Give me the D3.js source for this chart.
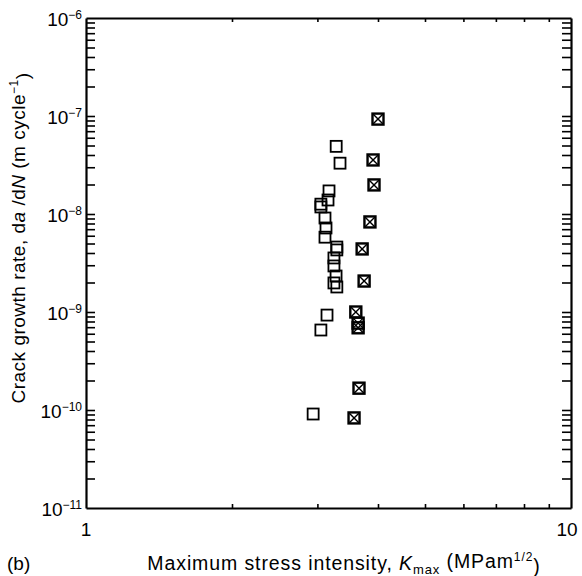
<!DOCTYPE html>
<meta charset="utf-8">
<style>
body { margin: 0; background: #fff; }
svg { font-family: "Liberation Sans", Arial, sans-serif; }
.axis path { stroke: #000; stroke-width: 2.2px; }
.axis line { stroke: #000; stroke-width: 1.6px; }
.open { fill: none; stroke: #000; stroke-width: 1.8px; }
.cross rect { fill: none; stroke: #000; stroke-width: 2.4px; }
.cross line { stroke: #000; stroke-width: 1.4px; }
</style>
<svg width="582" height="576"></svg>
<script src="https://cdn.jsdelivr.net/npm/d3@7"></script>
<script>

// open squares: K_max (MPa m^1/2), da/dN (m/cycle)
var openK    = [3.28, 3.34, 3.17, 3.155, 3.05, 3.05, 3.11, 3.125, 3.11, 3.29, 3.29, 3.245, 3.245, 3.278, 3.245, 3.29, 3.14, 3.05, 2.94];
var openRate = [4.9e-8, 3.3e-8, 1.72e-8, 1.39e-8, 1.26e-8, 1.18e-8, 9.1e-9, 7.2e-9, 5.8e-9, 4.6e-9, 4.3e-9, 3.56e-9, 2.95e-9, 2.33e-9, 1.98e-9, 1.8e-9, 9.3e-10, 6.55e-10, 9.1e-11];

// crossed squares
var crossK    = [4.0, 3.907, 3.925, 3.85, 3.71, 3.745, 3.60, 3.64, 3.64, 3.655, 3.57];
var crossRate = [9.3e-8, 3.56e-8, 1.98e-8, 8.3e-9, 4.4e-9, 2.07e-9, 1.0e-9, 7.7e-10, 6.9e-10, 1.67e-10, 8.3e-11];

var yDecades = [-11, -10, -9, -8, -7, -6];
var xLabels = [1, 10];

var svg = d3.select("svg"),
    margin = {top: 18, right: 11, bottom: 68, left: 86},
    width = svg.attr("width") - margin.left - margin.right,
    height = svg.attr("height") - margin.top - margin.bottom,
    g = svg.append("g").attr("transform", "translate(" + margin.left + "," + margin.top + ")");

var x = d3.scaleLog().domain([1, 10]).range([0, width]),
    y = d3.scaleLog().domain([1e-11, 1e-6]).range([height, 0]);

var xTicks = d3.range(2, 10);
var yTicks = [];
yDecades.forEach(function(e) {
  if (e < -6) for (var m = 2; m < 10; m++) yTicks.push(m * Math.pow(10, e));
  if (e > -11 && e < -6) yTicks.push(Math.pow(10, e));
});

g.append("g").attr("class", "axis")
    .attr("transform", "translate(0," + height + ")")
    .call(d3.axisBottom(x).tickValues(xTicks).tickSizeInner(-4).tickSizeOuter(0).tickFormat(""));
g.append("g").attr("class", "axis")
    .call(d3.axisTop(x).tickValues(xTicks).tickSizeInner(-4).tickSizeOuter(0).tickFormat(""));
g.append("g").attr("class", "axis")
    .call(d3.axisLeft(y).tickValues(yTicks).tickSizeInner(-9).tickSizeOuter(0).tickFormat(""));
g.append("g").attr("class", "axis")
    .attr("transform", "translate(" + width + ",0)")
    .call(d3.axisRight(y).tickValues(yTicks).tickSizeInner(-9).tickSizeOuter(0).tickFormat(""));

// y tick labels
var yl = g.append("g").selectAll("text")
  .data(yDecades)
  .enter().append("text")
    .attr("x", -4)
    .attr("y", function(d) { return y(Math.pow(10, d)) + 8; })
    .attr("text-anchor", "end")
    .style("font-size", "19px");
yl.append("tspan").text("10");
yl.append("tspan")
    .attr("dy", "-0.6em")
    .style("font-size", "12px")
    .text(function(d) { return "\u2212" + (-d); });

// x tick labels
g.append("g").selectAll("text")
  .data(xLabels)
  .enter().append("text")
    .attr("x", function(d, i) { return x(d) - i * 4; })
    .attr("y", height + 28)
    .attr("text-anchor", "middle")
    .style("font-size", "19px")
    .text(function(d) { return d; });

// axis titles
var yt = svg.append("text")
    .attr("transform", "translate(25,238) rotate(-90)")
    .attr("text-anchor", "middle")
    .style("font-size", "19px")
    .style("letter-spacing", "0.5px");
yt.append("tspan").text("Crack growth rate, d");
yt.append("tspan").style("font-style", "italic").text("a");
yt.append("tspan").text(" /d");
yt.append("tspan").style("font-style", "italic").text("N");
yt.append("tspan").text(" (m cycle");
yt.append("tspan").attr("dy", "-0.6em").style("font-size", "12px").text("\u22121");
yt.append("tspan").attr("dy", "0.6em").text(")");

var xt = svg.append("text")
    .attr("x", 344)
    .attr("y", 570)
    .attr("text-anchor", "middle")
    .style("font-size", "19.5px")
    .style("letter-spacing", "0.9px");
xt.append("tspan").text("Maximum stress intensity, ");
xt.append("tspan").style("font-style", "italic").text("K");
xt.append("tspan").attr("dy", "0.3em").style("font-size", "13px").text("max");
xt.append("tspan").attr("dy", "-0.3em").text(" (MPam");
xt.append("tspan").attr("dy", "-0.6em").style("font-size", "12px").text("1/2");
xt.append("tspan").attr("dy", "0.6em").text(")");

svg.append("text")
    .attr("x", 7)
    .attr("y", 570)
    .style("font-size", "19px")
    .text("(b)");

// data
var s = 11;
var openData = openK.map(function(k, i) { return {k: k, r: openRate[i]}; });
var crossData = crossK.map(function(k, i) { return {k: k, r: crossRate[i]}; });

g.selectAll(".open")
  .data(openData)
  .enter().append("rect")
    .attr("class", "open")
    .attr("x", function(d) { return x(d.k) - s / 2; })
    .attr("y", function(d) { return y(d.r) - s / 2; })
    .attr("width", s)
    .attr("height", s);

var cross = g.selectAll(".cross")
  .data(crossData)
  .enter().append("g")
    .attr("class", "cross")
    .attr("transform", function(d) { return "translate(" + x(d.k) + "," + y(d.r) + ")"; });
cross.append("rect")
    .attr("x", -s / 2).attr("y", -s / 2)
    .attr("width", s).attr("height", s);
cross.append("line").attr("x1", -s / 2).attr("y1", -s / 2).attr("x2", s / 2).attr("y2", s / 2);
cross.append("line").attr("x1", -s / 2).attr("y1", s / 2).attr("x2", s / 2).attr("y2", -s / 2);

</script>
